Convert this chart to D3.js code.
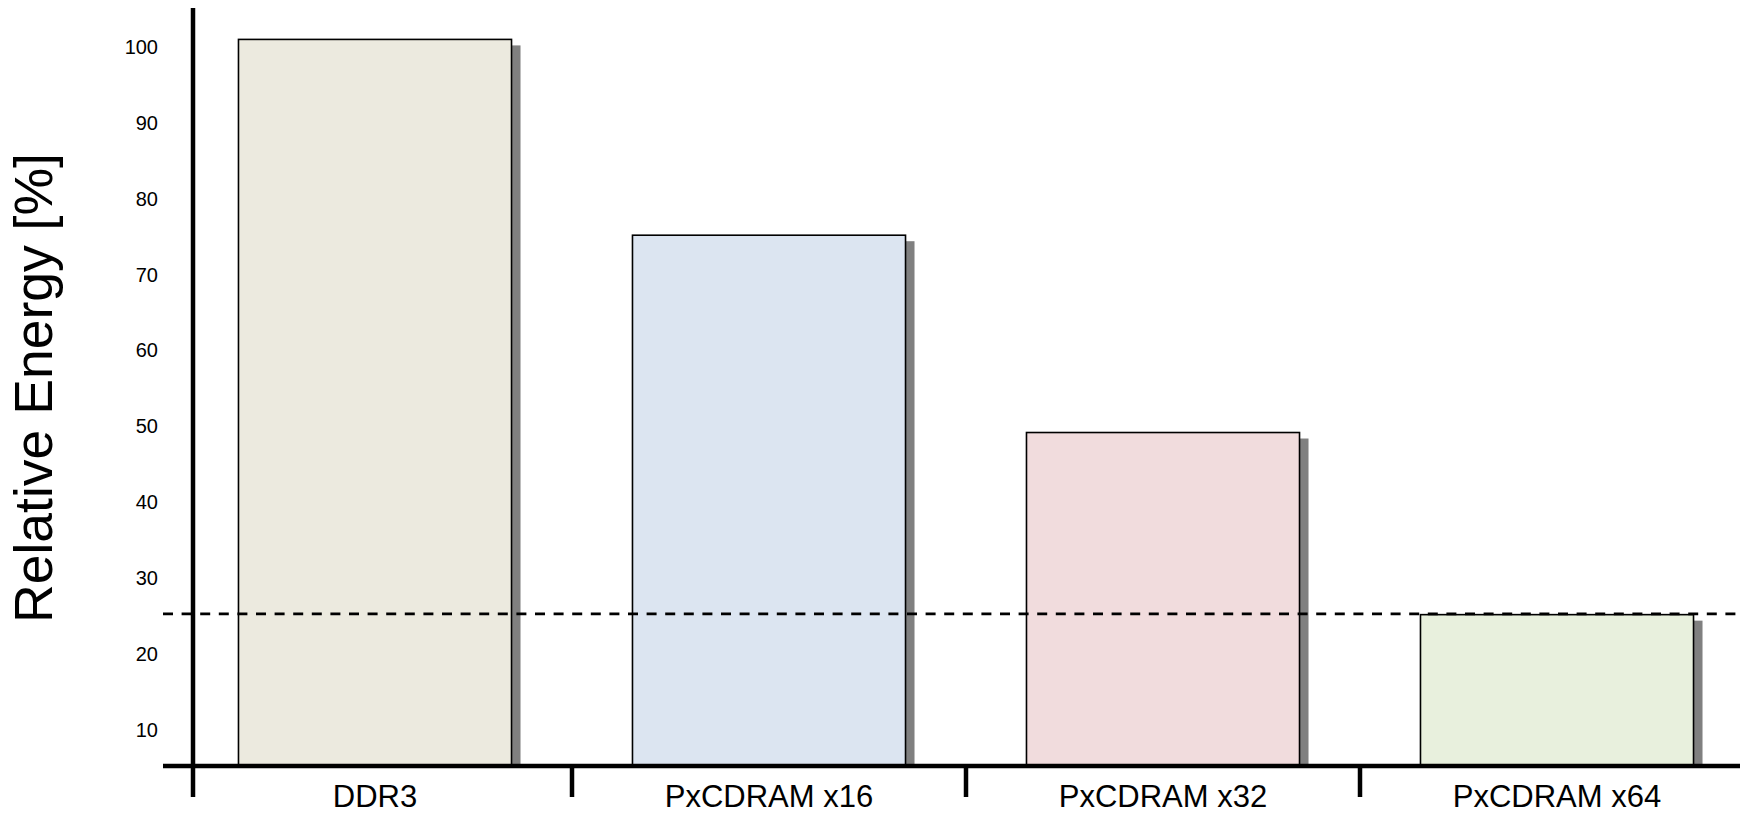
<!DOCTYPE html>
<html>
<head>
<meta charset="utf-8">
<script src="https://cdn.jsdelivr.net/npm/d3@7"></script>
<style>
  html, body { margin: 0; padding: 0; background: #fff; }
  svg { display: block; font-family: "Liberation Sans", Arial, sans-serif; }
</style>
</head>
<body>
<svg id="chart" width="1746" height="814"></svg>
<script>
// Relative energy per memory configuration
const categories = ["DDR3", "PxCDRAM x16", "PxCDRAM x32", "PxCDRAM x64"];
const energy = [101, 75.2, 49.2, 25.2];
const fills = ["#ECEADF", "#DCE5F1", "#F1DCDD", "#E8F0DD"];
const yTicks = [10, 20, 30, 40, 50, 60, 70, 80, 90, 100];
const reference = 25.3;
const yBase = 5.26;
const yTitle = "Relative Energy [%]";

const svg = d3.select("#chart");

const x = d3.scaleBand()
  .domain(categories)
  .range([178, 1754])
  .paddingInner(0.307)
  .paddingOuter(0.1535);

const y = d3.scaleLinear()
  .domain([10, 100])
  .range([730, 47]);

const axisX = 193;          // position of the vertical axis
const baseY = y(yBase);     // position of the horizontal axis

// drop shadows behind the bars
svg.append("g").selectAll("rect")
  .data(categories)
  .join("rect")
  .attr("x", d => x(d) + 9)
  .attr("y", (d, i) => y(energy[i]) + 6)
  .attr("width", x.bandwidth())
  .attr("height", (d, i) => baseY - y(energy[i]) - 6)
  .attr("fill", "#808080");

// bars
svg.append("g").selectAll("rect")
  .data(categories)
  .join("rect")
  .attr("x", d => x(d))
  .attr("y", (d, i) => y(energy[i]))
  .attr("width", x.bandwidth())
  .attr("height", (d, i) => baseY - y(energy[i]))
  .attr("fill", (d, i) => fills[i])
  .attr("stroke", "#000")
  .attr("stroke-width", 1.6);

// dashed reference level
svg.append("line")
  .attr("x1", 163).attr("x2", 1740)
  .attr("y1", y(reference)).attr("y2", y(reference))
  .attr("stroke", "#000")
  .attr("stroke-width", 2.6)
  .attr("stroke-dasharray", "10,8.6");

// y tick labels
const gy = svg.append("g")
  .attr("transform", `translate(${axisX},0)`)
  .call(d3.axisLeft(y).tickValues(yTicks).tickSize(0).tickPadding(35).tickFormat(d3.format("d")));
gy.select(".domain").remove();
gy.selectAll("text")
  .attr("font-size", 20)
  .attr("font-family", "'Liberation Sans', Arial, sans-serif")
  .attr("fill", "#000");

// category labels
const gx = svg.append("g")
  .attr("transform", `translate(0,${baseY})`)
  .call(d3.axisBottom(x).tickSize(0).tickPadding(19));
gx.select(".domain").remove();
gx.selectAll("text")
  .attr("font-size", 31)
  .attr("font-family", "'Liberation Sans', Arial, sans-serif")
  .attr("fill", "#000");

// axis lines
svg.append("line")
  .attr("x1", axisX).attr("x2", axisX)
  .attr("y1", 8).attr("y2", 797)
  .attr("stroke", "#000").attr("stroke-width", 4.5);
svg.append("line")
  .attr("x1", 163).attr("x2", 1740)
  .attr("y1", baseY).attr("y2", baseY)
  .attr("stroke", "#000").attr("stroke-width", 4.5);

// separators between categories
const seps = categories.slice(1).map(c => x(c) - x.step() * x.paddingInner() / 2);
svg.append("g").selectAll("line")
  .data(seps)
  .join("line")
  .attr("x1", d => d).attr("x2", d => d)
  .attr("y1", baseY).attr("y2", 797)
  .attr("stroke", "#000").attr("stroke-width", 4.5);

// y axis title
svg.append("text")
  .attr("transform", `translate(52,388) rotate(-90)`)
  .attr("text-anchor", "middle")
  .attr("font-size", 53.5)
  .attr("fill", "#000")
  .text(yTitle);
</script>
</body>
</html>
